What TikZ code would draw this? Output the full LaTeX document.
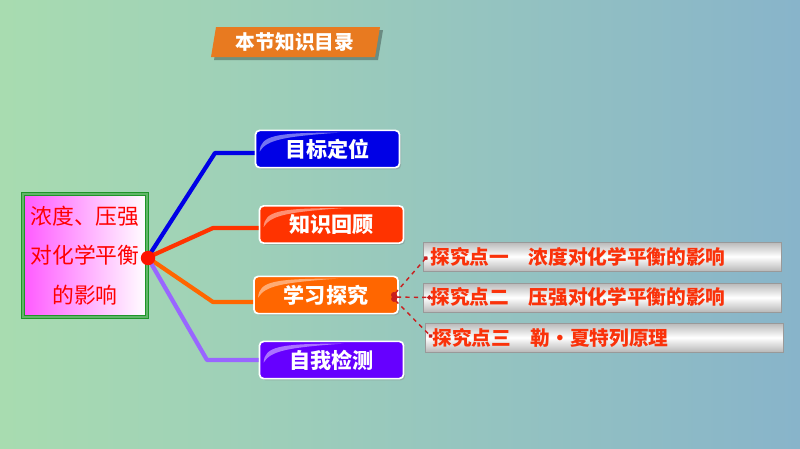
\documentclass[tikz,border=0pt]{standalone}
\usepackage{fontspec}
\newfontfamily\cjk{Noto Sans CJK SC}
\usetikzlibrary{shadows,arrows.meta}
\definecolor{bgleft}{RGB}{168,220,176}
\definecolor{bgright}{RGB}{136,180,202}
\definecolor{bannerorange}{RGB}{232,122,32}
\definecolor{goalblue}{RGB}{0,0,230}
\definecolor{reviewred}{RGB}{255,51,0}
\definecolor{learnorange}{RGB}{255,102,0}
\definecolor{testviolet}{RGB}{102,0,255}
\definecolor{linepurple}{RGB}{153,102,255}
\definecolor{framegreen}{RGB}{30,150,40}
\definecolor{pointred}{RGB}{250,50,10}
\definecolor{dashred}{RGB}{200,30,30}
\tikzset{
  menubtn/.style={draw=white, line width=1.2pt, rounded corners=3pt,
    minimum width=3.6cm, minimum height=0.93cm, text=white,
    font=\cjk\bfseries\fontsize{15}{15}\selectfont,
    drop shadow={opacity=0.35, shadow xshift=1.2pt, shadow yshift=-1.2pt}},
  pointbox/.style={draw=gray!80, anchor=west, minimum width=8.95cm,
    minimum height=0.72cm, inner xsep=5pt, text width=8.6cm, align=left,
    top color=gray!55, bottom color=gray!55, middle color=white,
    text=pointred, font=\cjk\bfseries\fontsize{14}{14}\selectfont},
  branch/.style={line width=3pt, line join=round},
  dashlink/.style={dashed, draw=dashred, line width=1pt,
    {Circle[length=4pt]}-{Circle[length=3pt]}}
}
\begin{document}
\begin{tikzpicture}[x=0.025cm,y=-0.025cm]
\useasboundingbox (0,0) rectangle (800,448);
\shade[left color=bgleft, right color=bgright] (0,0) rectangle (800,448);

% title banner
\fill[black,opacity=0.3] (219,30) -- (383,30) -- (378,60) -- (214,60) -- cycle;
\fill[bannerorange] (216,27) -- (380,27) -- (375,57) -- (211,57) -- cycle;
\node (title) at (295,42) [text=white, font=\cjk\bfseries\fontsize{14}{14}\selectfont] {本节知识目录};

% topic box
\node (topic) at (85,255.5) [draw=framegreen, double=framegreen!70, double distance=1pt,
  line width=1pt, minimum width=3.1cm, minimum height=3.08cm,
  left color=magenta!65, right color=white, text=red, align=center,
  font=\cjk\fontsize{15.5}{28}\selectfont] {浓度、压强\\对化学平衡\\的影响};

% menu buttons
\node (goal)   at (327.5,149) [menubtn, fill=goalblue]    {目标定位};
\node (review) at (331.5,224.5) [menubtn, fill=reviewred]  {知识回顾};
\node (learn)  at (326,295)   [menubtn, fill=learnorange] {学习探究};
\node (test)   at (331.5,360) [menubtn, fill=testviolet]  {自我检测};
\foreach \b in {goal,review,learn,test}
  \fill[white,opacity=0.45] ([shift={(5,22)}]\b.north west)
    .. controls ([shift={(6,6)}]\b.north west) and ([shift={(20,3)}]\b.north west) .. ([shift={(85,3)}]\b.north west)
    .. controls ([shift={(30,7)}]\b.north west) and ([shift={(12,10)}]\b.north west) .. cycle;

% hub and branches
\coordinate (bgoal)   at (215,153);
\coordinate (breview) at (213,228);
\coordinate (blearn)  at (213,302);
\coordinate (btest)   at (207,360);
\draw[branch, goalblue]    (topic.east) ++(0,2) -- (bgoal) -- (goal.west |- bgoal);
\draw[branch, reviewred]   (topic.east) ++(0,2) -- (breview) -- (review.west |- breview);
\draw[branch, learnorange] (topic.east) ++(0,2) -- (blearn) -- (learn.west |- blearn);
\draw[branch, linepurple]  (topic.east) ++(0,2) -- (btest) -- (test.west |- btest);
\node (hub) at (148,258) [circle, fill=red!85!orange, inner sep=0pt, minimum size=0.36cm] {};

% inquiry points
\node (pone)   at (423,256.5) [pointbox] {探究点一\quad 浓度对化学平衡的影响};
\node (ptwo)   at (423,297.5) [pointbox] {探究点二\quad 压强对化学平衡的影响};
\node (pthree) at (425,337.5) [pointbox, minimum width=8.9cm] {探究点三\quad 勒·夏特列原理};
\coordinate (lend) at (392,297);
\draw[dashlink] (lend) -- ([xshift=3]pone.west);
\draw[dashlink] (lend) -- ([xshift=6]ptwo.west);
\draw[dashlink] (lend) -- ([xshift=5]pthree.west);
\end{tikzpicture}
\end{document}
